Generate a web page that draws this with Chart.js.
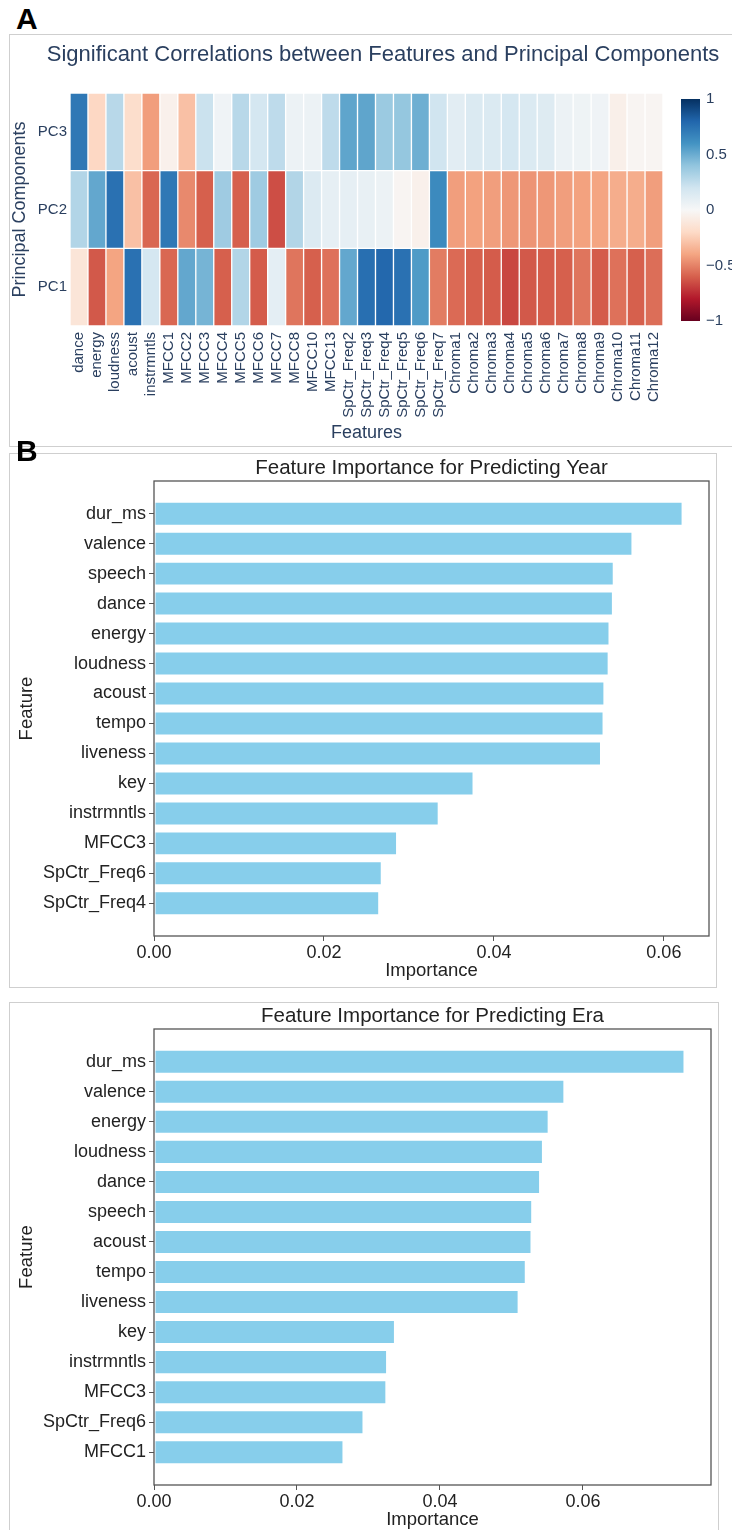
<!DOCTYPE html>
<html>
<head>
<meta charset="utf-8">
<script src="https://cdn.jsdelivr.net/npm/chart.js@4.4.1/dist/chart.umd.min.js"></script>
<style>
  html, body { margin: 0; padding: 0; background: #fff; }
  body { width: 732px; height: 1530px; overflow: hidden; position: relative;
         font-family: "Liberation Sans", Arial, sans-serif; }
  .frame { position: absolute; border: 1px solid #cfcfcf; box-sizing: border-box; }
  .tag { position: absolute; font-weight: bold; font-size: 30px; line-height: 1; color: #000; }
  canvas { position: absolute; }
</style>
</head>
<body>
<div class="frame" style="left:9px;top:34px;width:740px;height:413px"></div>
<div class="frame" style="left:9px;top:453px;width:708px;height:535px"></div>
<div class="frame" style="left:9px;top:1002px;width:710px;height:545px"></div>

<canvas id="heat" width="766" height="411" style="left:0;top:35px"></canvas>
<canvas id="year" width="706" height="532" style="left:10px;top:454px"></canvas>
<canvas id="era" width="708" height="530" style="left:10px;top:1003px"></canvas>

<div class="tag" style="left:16px;top:4px">A</div>
<div class="tag" style="left:16px;top:436px">B</div>

<script>
// ---- Panel A: correlations between features and principal components ----
const features = ['dance', 'energy', 'loudness', 'acoust', 'instrmntls',
  'MFCC1', 'MFCC2', 'MFCC3', 'MFCC4', 'MFCC5', 'MFCC6', 'MFCC7', 'MFCC8', 'MFCC10', 'MFCC13',
  'SpCtr_Freq2', 'SpCtr_Freq3', 'SpCtr_Freq4', 'SpCtr_Freq5', 'SpCtr_Freq6', 'SpCtr_Freq7',
  'Chroma1', 'Chroma2', 'Chroma3', 'Chroma4', 'Chroma5', 'Chroma6',
  'Chroma7', 'Chroma8', 'Chroma9', 'Chroma10', 'Chroma11', 'Chroma12'];
const components = ['PC1', 'PC2', 'PC3'];

const corrPC1 = [-0.13, -0.62, -0.40, 0.75, 0.18,
  -0.58, 0.52, 0.47, -0.60, 0.30, -0.61, 0.10, -0.54, -0.60, -0.55,
  0.52, 0.76, 0.79, 0.75, 0.57, -0.52,
  -0.57, -0.60, -0.61, -0.67, -0.62, -0.61,
  -0.60, -0.54, -0.61, -0.55, -0.60, -0.56];
const corrPC2 = [0.30, 0.52, 0.75, -0.30, -0.58,
  0.72, -0.48, -0.60, 0.36, -0.60, 0.36, -0.65, 0.30, 0.14, 0.09,
  0.09, 0.08, 0.06, -0.02, -0.05, 0.64,
  -0.42, -0.41, -0.42, -0.44, -0.45, -0.44,
  -0.42, -0.41, -0.40, -0.37, -0.37, -0.42];
const corrPC3 = [0.72, -0.21, 0.28, -0.18, -0.42,
  -0.05, -0.30, 0.22, 0.04, 0.28, 0.18, 0.26, 0.06, 0.06, 0.26,
  0.53, 0.53, 0.37, 0.39, 0.49, 0.20,
  0.11, 0.15, 0.15, 0.18, 0.15, 0.13,
  0.06, 0.05, 0.04, -0.06, -0.02, -0.02];
const colorbarTicks = [-1, -0.5, 0, 0.5, 1];

// ---- Panel B: feature importances ----
const yearFeatures = ['dur_ms', 'valence', 'speech', 'dance', 'energy', 'loudness', 'acoust',
  'tempo', 'liveness', 'key', 'instrmntls', 'MFCC3', 'SpCtr_Freq6', 'SpCtr_Freq4'];
const yearImportance = [0.0622, 0.0563, 0.0541, 0.0540, 0.0536, 0.0535, 0.0530,
  0.0529, 0.0526, 0.0376, 0.0335, 0.0286, 0.0268, 0.0265];
const eraFeatures = ['dur_ms', 'valence', 'energy', 'loudness', 'dance', 'speech', 'acoust',
  'tempo', 'liveness', 'key', 'instrmntls', 'MFCC3', 'SpCtr_Freq6', 'MFCC1'];
const eraImportance = [0.0742, 0.0574, 0.0552, 0.0544, 0.0540, 0.0529, 0.0528,
  0.0520, 0.0510, 0.0337, 0.0326, 0.0325, 0.0293, 0.0265];
const importanceTicks = [0, 0.02, 0.04, 0.06];

Chart.defaults.font.family = '"Liberation Sans", Arial, sans-serif';
Chart.defaults.animation = false;

// Diverging red-blue colour scale, -1 (red) .. +1 (blue)
const RDBU = [[103,0,31],[178,24,43],[214,96,77],[244,165,130],[253,219,199],[247,247,247],
              [209,229,240],[146,197,222],[67,147,195],[33,102,172],[5,48,97]];
function rdbu(v) {
  const t = (Math.max(-1, Math.min(1, v)) + 1) / 2 * 10;
  const i = Math.min(9, Math.floor(t));
  const f = t - i;
  const a = RDBU[i], b = RDBU[i + 1];
  const c = a.map((ch, k) => Math.round(ch + (b[k] - ch) * f));
  return `rgb(${c[0]},${c[1]},${c[2]})`;
}

const plotlyInk = '#2a3f5f';
const corrRows = [corrPC1, corrPC2, corrPC3];

// colour bar drawn against the 'cb' scale
const colorBarPlugin = {
  id: 'colorBar',
  afterDatasetsDraw(chart) {
    const s = chart.scales.cb;
    const ctx = chart.ctx;
    const x0 = chart.chartArea.right + 18, w = 19;
    const yTop = s.getPixelForValue(1), yBot = s.getPixelForValue(-1);
    const g = ctx.createLinearGradient(0, yBot, 0, yTop);
    RDBU.forEach((c, k) => g.addColorStop(k / 10, `rgb(${c[0]},${c[1]},${c[2]})`));
    ctx.save();
    ctx.fillStyle = g;
    ctx.fillRect(x0, yTop, w, yBot - yTop);
    ctx.restore();
  }
};

new Chart(document.getElementById('heat'), {
  type: 'bar',
  data: {
    labels: features,
    datasets: components.map((pc, r) => ({
      label: pc,
      data: features.map(() => [r, r + 1]),
      backgroundColor: corrRows[r].map(rdbu),
      borderColor: 'rgba(255,255,255,0.22)',
      borderWidth: 1,
      borderSkipped: false,
      grouped: false,
      categoryPercentage: 1,
      barPercentage: 1
    }))
  },
  options: {
    responsive: false,
    devicePixelRatio: 1,
    layout: { padding: 0 },
    plugins: {
      legend: { display: false },
      title: {
        display: true,
        text: 'Significant Correlations between Features and Principal Components',
        color: plotlyInk,
        font: { size: 22, weight: 'normal' },
        padding: { top: 7, bottom: 24.6 }
      },
      tooltip: {
        callbacks: {
          label: (ctx) => `${ctx.dataset.label}: ${corrRows[ctx.datasetIndex][ctx.dataIndex].toFixed(2)}`
        }
      }
    },
    scales: {
      x: {
        type: 'category',
        grid: { display: false, drawTicks: false },
        border: { display: false },
        ticks: { autoSkip: false, minRotation: 90, maxRotation: 90, padding: 6,
                 color: plotlyInk, font: { size: 15 } },
        title: { display: true, text: 'Features', color: plotlyInk,
                 font: { size: 18 }, padding: { top: 0, bottom: 2 } },
        afterFit: (s) => { s.height = 120; }
      },
      y: {
        type: 'linear', min: 0, max: 3,
        grid: { display: false, drawTicks: false },
        border: { display: false },
        afterBuildTicks: (s) => { s.ticks = components.map((_, r) => ({ value: r + 0.5 })); },
        ticks: { padding: 3, color: plotlyInk, font: { size: 15 },
                 callback: (v) => components[Math.floor(v)] },
        title: { display: true, text: 'Principal Components', color: plotlyInk,
                 font: { size: 18 }, padding: { top: 9, bottom: 0 } },
        afterFit: (s) => { s.width = 70; }
      },
      cb: {
        type: 'linear', position: 'right', min: -1.045, max: 1.054,
        grid: { display: false, drawTicks: false },
        border: { display: false },
        afterBuildTicks: (s) => { s.ticks = colorbarTicks.map((v) => ({ value: v })); },
        ticks: { padding: 43, color: plotlyInk, font: { size: 15 },
                 callback: (v) => String(v).replace('-', '\u2212') },
        afterFit: (s) => { s.width = 103; }
      }
    }
  },
  plugins: [colorBarPlugin]
});

// box around the plotting area (all four spines)
const spinesPlugin = {
  id: 'spines',
  afterDraw(chart) {
    const { left, top, right, bottom } = chart.chartArea;
    const ctx = chart.ctx;
    ctx.save();
    ctx.strokeStyle = '#555';
    ctx.lineWidth = 1.3;
    ctx.strokeRect(left, top, right - left, bottom - top);
    ctx.restore();
  }
};

function importanceChart(id, title, names, values, geom) {
  const n = names.length;
  const pad = 0.05 * (n - 1 + 0.8);
  const ink = '#222';
  return new Chart(document.getElementById(id), {
    type: 'bar',
    data: {
      datasets: [{
        label: 'Importance',
        data: names.map((name, i) => ({ x: values[i], y: i })),
        backgroundColor: '#87ceeb',
        borderColor: 'rgba(255,255,255,0.5)',
        borderWidth: 1,
        borderSkipped: false,
        categoryPercentage: 1,
        barPercentage: 0.8
      }]
    },
    options: {
      indexAxis: 'y',
      responsive: false,
      devicePixelRatio: 1,
      layout: { padding: { left: 0, right: geom.right, top: 0, bottom: 0 } },
      plugins: {
        legend: { display: false },
        title: {
          display: true, text: title, color: ink, fullSize: false,
          font: { size: 20.5, weight: 'normal' },
          padding: { top: geom.titleTop, bottom: 0 }
        },
        tooltip: { callbacks: { title: (items) => names[items[0].parsed.y] } }
      },
      scales: {
        x: {
          type: 'linear', min: 0, max: Math.max(...values) * 1.05,
          offset: false,
          grid: { drawOnChartArea: false, drawTicks: true, tickLength: 5, color: '#555', offset: false },
          border: { display: false },
          afterBuildTicks: (s) => { s.ticks = importanceTicks.map((v) => ({ value: v })); },
          ticks: { padding: 1, color: ink, font: { size: 18 },
                   callback: (v) => Number(v).toFixed(2) },
          title: { display: true, text: 'Importance', color: ink,
                   font: { size: 18.5 }, padding: { top: 0, bottom: geom.xTitleBottom } },
          afterFit: (s) => { s.height = geom.xHeight; }
        },
        y: {
          type: 'linear', reverse: true, min: -0.4 - pad, max: n - 1 + 0.4 + pad,
          offset: false,
          grid: { drawOnChartArea: false, drawTicks: true, tickLength: 5, color: '#555', offset: false },
          border: { display: false },
          afterBuildTicks: (s) => { s.ticks = names.map((_, i) => ({ value: i })); },
          ticks: { padding: 3, color: ink, font: { size: 18 },
                   callback: (v) => names[v] },
          title: { display: true, text: 'Feature', color: ink,
                   font: { size: 18.5 }, padding: { top: 5.4, bottom: 0 } },
          afterFit: (s) => { s.width = 144; }
        }
      }
    },
    plugins: [spinesPlugin]
  });
}

importanceChart('year', 'Feature Importance for Predicting Year', yearFeatures, yearImportance,
  { right: 7, titleTop: 2.4, xHeight: 50, xTitleBottom: 4 });
importanceChart('era', 'Feature Importance for Predicting Era', eraFeatures, eraImportance,
  { right: 7, titleTop: 1.4, xHeight: 48, xTitleBottom: 2 });
</script>
</body>
</html>
